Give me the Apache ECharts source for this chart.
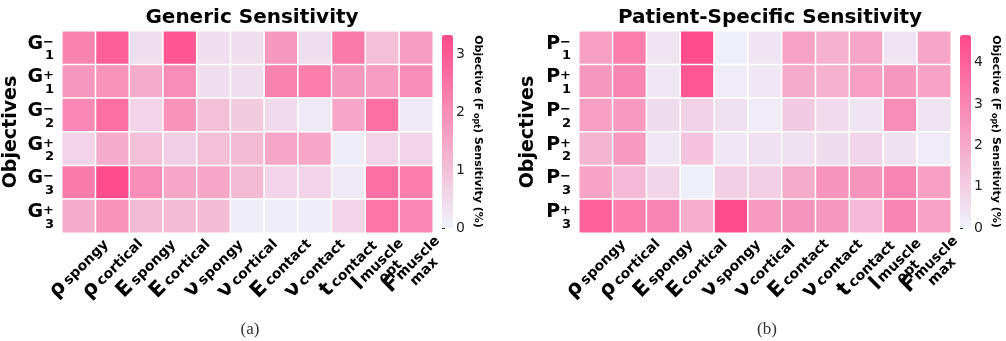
<!DOCTYPE html>
<html>
<head>
<meta charset="utf-8">
<script src="https://cdn.jsdelivr.net/npm/echarts@6/dist/echarts.min.js"></script>
<style>
html, body { margin: 0; padding: 0; background: #fff; }
#main { width: 1006px; height: 341px; }
</style>
</head>
<body>
<div id="main"></div>
<script>
// parameters (columns)
var paramKeys = ['rho_spongy', 'rho_cortical', 'E_spongy', 'E_cortical', 'nu_spongy', 'nu_cortical',
                 'E_contact', 'nu_contact', 't_contact', 'l_opt_muscle', 'F_max_muscle'];
var paramSymbols = ['ρ', 'ρ', 'E', 'E', 'ν', 'ν', 'E', 'ν', 't', 'l', 'F'];
var paramSubs = ['spongy', 'cortical', 'spongy', 'cortical', 'spongy', 'cortical',
                 'contact', 'contact', 'contact', 'opt', 'max'];
var paramSups = ['', '', '', '', '', '', '', '', '', 'muscle', 'muscle'];

// objectives (rows)
var genericRows = ['G1-', 'G1+', 'G2-', 'G2+', 'G3-', 'G3+'];
var patientRows = ['P1-', 'P1+', 'P2-', 'P2+', 'P3-', 'P3+'];
var rowSubs = ['1', '1', '2', '2', '3', '3'];
var rowSups = ['−', '+', '−', '+', '−', '+'];

// sensitivity values (%), one row per objective
var genericValues = [
    [2.2, 2.9, 0.4, 3.1, 0.4, 0.4, 1.8, 0.4, 2.4, 1.0, 1.7],
    [1.8, 1.9, 1.4, 2.0, 0.4, 0.4, 2.2, 2.3, 1.8, 1.7, 2.0],
    [2.1, 2.6, 0.6, 1.9, 1.0, 0.8, 0.5, 0.2, 1.5, 2.6, 0.2],
    [0.6, 1.4, 1.0, 0.7, 1.0, 1.1, 1.5, 1.5, 0.1, 0.6, 0.6],
    [2.4, 3.3, 2.0, 1.5, 1.5, 1.1, 0.6, 0.6, 0.2, 2.6, 2.3],
    [1.4, 1.9, 1.1, 1.1, 1.1, 0.1, 0.1, 0.1, 0.6, 2.5, 2.1]
];
var patientValues = [
    [2.3, 3.2, 0.4, 4.6, 0.1, 0.4, 2.2, 1.8, 2.1, 0.4, 2.1],
    [2.5, 3.0, 0.3, 4.3, 0.2, 0.3, 2.0, 1.8, 2.3, 2.5, 2.2],
    [2.3, 2.4, 0.6, 0.9, 0.5, 0.2, 1.1, 0.7, 0.4, 2.8, 0.4],
    [1.7, 2.4, 0.3, 1.3, 0.3, 0.5, 0.5, 0.6, 0.8, 0.5, 0.2],
    [2.2, 1.6, 0.8, 0.1, 1.0, 1.0, 2.0, 2.6, 2.6, 3.0, 2.3],
    [4.0, 3.2, 3.0, 1.9, 4.6, 2.4, 2.6, 2.5, 1.6, 3.0, 2.2]
];
var genericMax = 3.34;
var patientMax = 4.67;
var genericTicks = [0, 1, 2, 3];
var patientTicks = [0, 1, 2, 3, 4];

var FONT = 'DejaVu Sans';
var COLORS = ['#eef3fa', '#ff4a8a'];

function toCells(values) {
    var out = [];
    for (var r = 0; r < values.length; r++) {
        for (var c = 0; c < values[r].length; c++) {
            out.push([c, r, values[r][c]]);
        }
    }
    return out;
}

function xLabel(value, i) {
    if (paramSups[i]) {
        return '{big|' + paramSymbols[i] + '}{sup|' + paramSups[i] + '}\n{sub2|' + paramSubs[i] + '}';
    }
    return '{big|' + paramSymbols[i] + '}{sub|' + paramSubs[i] + '}';
}

function yLabel(letter) {
    return function (value, i) {
        return '{g|' + letter + '}{sp|' + rowSups[i] + '}\n{sb|' + rowSubs[i] + '}';
    };
}

var xRich = {
    big: { fontFamily: FONT, fontWeight: 'bold', fontSize: 21, color: '#000', lineHeight: 17 },
    sub: { fontFamily: FONT, fontWeight: 'bold', fontSize: 14, color: '#000', verticalAlign: 'bottom',
           lineHeight: 17, padding: [0, 0, 0, 3] },
    sup: { fontFamily: FONT, fontWeight: 'bold', fontSize: 14, color: '#000', lineHeight: 17, padding: [0, 0, 0, 2] },
    sub2: { fontFamily: FONT, fontWeight: 'bold', fontSize: 14, color: '#000', lineHeight: 11, padding: [0, 0, 0, 6] }
};
var yRich = {
    g: { fontFamily: FONT, fontWeight: 'bold', fontSize: 19, color: '#000', lineHeight: 16 },
    sp: { fontFamily: FONT, fontWeight: 'bold', fontSize: 13, color: '#000', lineHeight: 5, verticalAlign: 'top' },
    sb: { fontFamily: FONT, fontWeight: 'bold', fontSize: 13, color: '#000', lineHeight: 8 }
};

function heatX(gi) {
    return {
        type: 'category', gridIndex: gi, data: paramKeys, position: 'bottom',
        axisLine: { show: false }, axisTick: { show: false }, splitArea: { show: false },
        axisLabel: {
            interval: 0, rotate: 45, align: 'center', verticalAlign: 'middle', margin: 35,
            formatter: xLabel, rich: xRich
        }
    };
}
function heatY(gi, rows, letter) {
    return {
        type: 'category', gridIndex: gi, data: rows, inverse: true,
        axisLine: { show: false }, axisTick: { show: false }, splitArea: { show: false },
        axisLabel: { margin: 8, align: 'right', formatter: yLabel(letter), rich: yRich },
        name: 'Objectives', nameLocation: 'middle', nameRotate: 90, nameGap: 41,
        nameTextStyle: { fontFamily: FONT, fontWeight: 'bold', fontSize: 19, color: '#000' }
    };
}
function barY(gi, max, ticks) {
    return {
        type: 'value', gridIndex: gi, position: 'right', min: 0, max: max,
        splitLine: { show: false }, axisLine: { show: false },
        axisTick: { show: true, length: 3, customValues: ticks, lineStyle: { color: '#333' } },
        axisLabel: { customValues: ticks, margin: 3, fontFamily: FONT, fontSize: 14, color: '#222' },
        name: 'Objective (F{s| opt}) Sensitivity (%)', nameLocation: 'middle', nameRotate: -90, nameGap: 19,
        nameTextStyle: {
            fontFamily: FONT, fontWeight: 'bold', fontSize: 11, color: '#000',
            rich: { s: { fontFamily: FONT, fontWeight: 'bold', fontSize: 8, color: '#000', verticalAlign: 'bottom' } }
        }
    };
}

var myChart = echarts.init(document.getElementById('main'));

var option = {
    backgroundColor: '#fff',
    animation: false,
    title: [
        { text: 'Generic Sensitivity', left: 247, top: 3, textAlign: 'center',
          textStyle: { fontFamily: FONT, fontWeight: 'bold', fontSize: 20, color: '#000' } },
        { text: 'Patient-Specific Sensitivity', left: 765, top: 3, textAlign: 'center',
          textStyle: { fontFamily: FONT, fontWeight: 'bold', fontSize: 20, color: '#000' } },
        { text: '(a)', left: 245, top: 316, textAlign: 'center',
          textStyle: { fontFamily: 'Liberation Serif', fontWeight: 'normal', fontSize: 17, color: '#333' } },
        { text: '(b)', left: 762, top: 316, textAlign: 'center',
          textStyle: { fontFamily: 'Liberation Serif', fontWeight: 'normal', fontSize: 17, color: '#333' } }
    ],
    grid: [
        { left: 62, top: 31, width: 371, height: 202 },
        { left: 579, top: 31, width: 372, height: 202 },
        { left: 442, top: 35, width: 11, height: 193 },
        { left: 960, top: 35, width: 11, height: 193 }
    ],
    xAxis: [
        heatX(0),
        heatX(1),
        { type: 'value', gridIndex: 2, show: false },
        { type: 'value', gridIndex: 3, show: false }
    ],
    yAxis: [
        heatY(0, genericRows, 'G'),
        heatY(1, patientRows, 'P'),
        barY(2, genericMax, genericTicks),
        barY(3, patientMax, patientTicks)
    ],
    visualMap: [
        { type: 'continuous', seriesIndex: 0, min: 0, max: genericMax, calculable: false,
          left: 442, top: 35, itemWidth: 11, itemHeight: 193, padding: 0, text: null, showLabel: false,
          inRange: { color: COLORS }, hoverLink: false },
        { type: 'continuous', seriesIndex: 1, min: 0, max: patientMax, calculable: false,
          left: 960, top: 35, itemWidth: 11, itemHeight: 193, padding: 0, text: null, showLabel: false,
          inRange: { color: COLORS }, hoverLink: false }
    ],
    series: [
        { type: 'heatmap', xAxisIndex: 0, yAxisIndex: 0, data: toCells(genericValues),
          itemStyle: { borderColor: '#fff', borderWidth: 1.5 }, emphasis: { disabled: true } },
        { type: 'heatmap', xAxisIndex: 1, yAxisIndex: 1, data: toCells(patientValues),
          itemStyle: { borderColor: '#fff', borderWidth: 1.5 }, emphasis: { disabled: true } }
    ]
};

myChart.setOption(option);
</script>
</body>
</html>
